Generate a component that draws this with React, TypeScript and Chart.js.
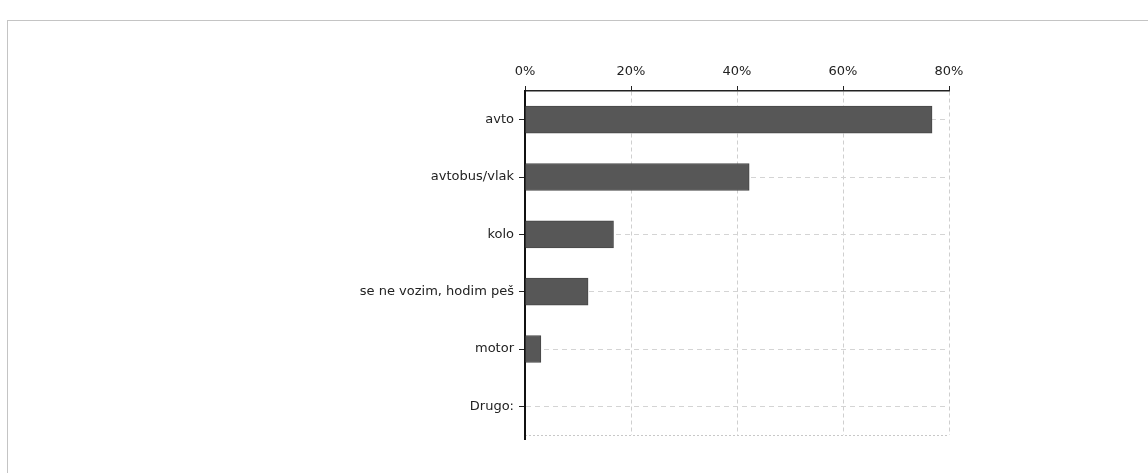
import React, { useEffect, useRef } from "react";
import { Chart, registerables } from "chart.js";

Chart.register(...registerables);

const categories = ["avto", "avtobus/vlak", "kolo", "se ne vozim, hodim peš", "motor", "Drugo:"];
const values = [76.8, 42.3, 16.7, 11.9, 3.0, 0];
const xTicks = [0, 20, 40, 60, 80];

const edgePlugin = {
  id: "edges",
  afterDraw(chart: any) {
    const { ctx, chartArea } = chart;
    ctx.save();
    ctx.strokeStyle = "#c8c8c8";
    ctx.lineWidth = 1;
    ctx.setLineDash([2, 2]);
    ctx.beginPath();
    ctx.moveTo(chartArea.left, chartArea.bottom + 0.5);
    ctx.lineTo(chartArea.right, chartArea.bottom + 0.5);
    ctx.stroke();
    ctx.setLineDash([]);
    ctx.strokeStyle = "#111";
    ctx.lineWidth = 2;
    ctx.beginPath();
    ctx.moveTo(chartArea.left, chartArea.bottom);
    ctx.lineTo(chartArea.left, chartArea.bottom + 5);
    ctx.stroke();
    ctx.restore();
  },
};

export default function App() {
  const ref = useRef<HTMLCanvasElement>(null);
  useEffect(() => {
    if (!ref.current) return;
    const chart = new Chart(ref.current, {
      type: "bar",
      data: {
        labels: categories,
        datasets: [
          {
            data: values,
            backgroundColor: "#575757",
            borderColor: "#474747",
            borderWidth: 1,
            barThickness: 27,
          },
        ],
      },
      options: {
        indexAxis: "y",
        animation: false,
        responsive: false,
        layout: { padding: { left: 0, top: 0, right: 199, bottom: 38 } },
        plugins: { legend: { display: false }, tooltip: { enabled: false } },
        scales: {
          x: {
            position: "top",
            min: 0,
            max: 80,
            afterBuildTicks: (scale: any) => {
              scale.ticks = xTicks.map((v) => ({ value: v }));
            },
            afterFit: (scale: any) => {
              scale.height = 91;
            },
            ticks: {
              callback: (v: any) => v + "%",
              color: "#222",
              font: { family: "DejaVu Sans", size: 13 },
              padding: 7,
              maxRotation: 0,
            },
            grid: {
              color: "#cfcfcf",
              tickColor: "#222",
              tickLength: 5,
              drawOnChartArea: true,
            },
            border: { display: true, color: "#222", width: 1.5, dash: [4, 3] },
          },
          y: {
            afterFit: (scale: any) => {
              scale.width = 525;
            },
            ticks: {
              color: "#222",
              font: { family: "DejaVu Sans", size: 13 },
              padding: 5,
            },
            grid: {
              offset: false,
              color: "#d4d4d4",
              tickColor: "#222",
              tickLength: 6,
            },
            border: { display: true, color: "#111", width: 2, dash: [5, 4] },
          },
        },
      },
      plugins: [edgePlugin],
    });
    return () => chart.destroy();
  }, []);

  return (
    <div style={{ position: "fixed", left: 0, top: 0, width: 1148, height: 473, background: "#fff", overflow: "hidden" }}>
      <div
        style={{
          position: "absolute",
          left: 7,
          top: 20,
          width: 1160,
          height: 470,
          borderTop: "1px solid #c4c4c4",
          borderLeft: "1px solid #c4c4c4",
        }}
      />
      <canvas ref={ref} width={1148} height={473} style={{ position: "absolute", left: 0, top: 0 }} />
    </div>
  );
}
